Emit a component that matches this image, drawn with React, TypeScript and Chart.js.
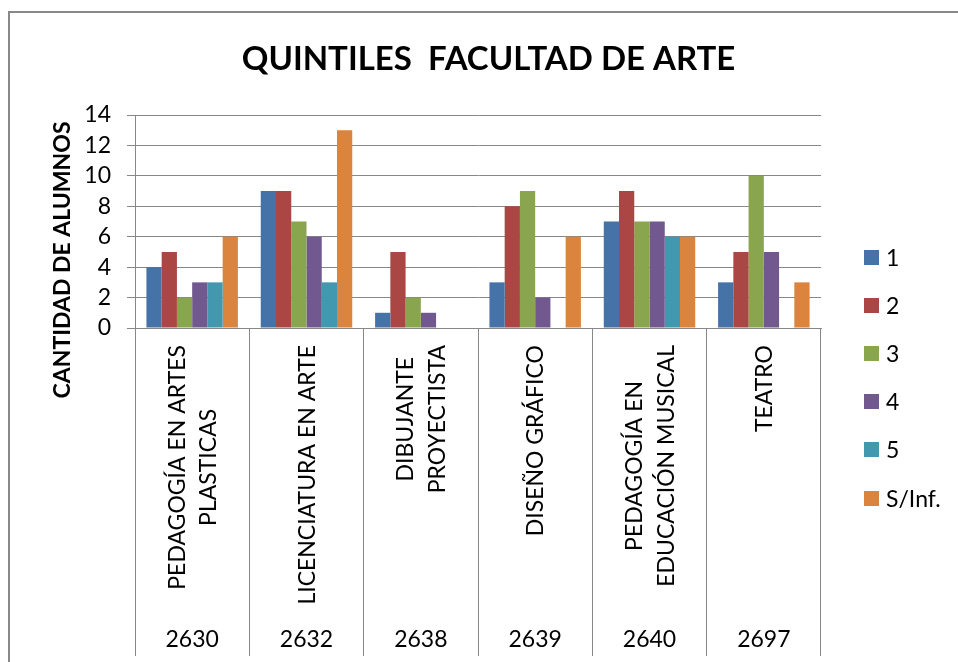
import React, { useEffect, useRef } from "react";
import { Chart, registerables } from "chart.js";

Chart.register(...registerables);

// ---- data ----
const TITLE = "QUINTILES  FACULTAD DE ARTE";
const Y_TITLE = "CANTIDAD DE ALUMNOS";
const PROGRAMS: string[][] = [
  ["PEDAGOGÍA EN ARTES", "PLASTICAS"],
  ["LICENCIATURA EN ARTE"],
  ["DIBUJANTE", "PROYECTISTA"],
  ["DISEÑO GRÁFICO"],
  ["PEDAGOGÍA EN", "EDUCACIÓN MUSICAL"],
  ["TEATRO"],
];
const CODES = ["2630", "2632", "2638", "2639", "2640", "2697"];
const SERIES_NAMES = ["1", "2", "3", "4", "5", "S/Inf."];
const Q1 = [4, 9, 1, 3, 7, 3];
const Q2 = [5, 9, 5, 8, 9, 5];
const Q3 = [2, 7, 2, 9, 7, 10];
const Q4 = [3, 6, 1, 2, 7, 5];
const Q5 = [3, 3, 0, 0, 6, 0];
const SINF = [6, 13, 0, 6, 6, 3];
const Y_MIN = 0;
const Y_MAX = 14;
const Y_STEP = 2;

// ---- styles ----
const SERIES = [Q1, Q2, Q3, Q4, Q5, SINF];
const COLORS = ["#4572A7", "#AA4643", "#89A54E", "#71588F", "#4198AF", "#DB843D"];
const GRID = "#878787";
const FONT = "Lato, 'Open Sans', sans-serif";
const CAP = 0.72;

const decor = {
  id: "decor",
  beforeDraw(chart: any) {
    const ctx = chart.ctx;
    ctx.save();
    ctx.fillStyle = "#ffffff";
    ctx.fillRect(0, 0, chart.width, chart.height);
    ctx.fillStyle = "#888888";
    ctx.fillRect(8, 11, 2, chart.height);
    ctx.fillRect(8, 11, chart.width, 2);
    ctx.restore();
  },
  afterDraw(chart: any) {
    const ctx = chart.ctx;
    const area = chart.chartArea;
    const xs = chart.scales.x;
    ctx.save();
    ctx.fillStyle = "#000000";

    // title
    ctx.font = `bold 33px ${FONT}`;
    ctx.textAlign = "center";
    ctx.textBaseline = "alphabetic";
    ctx.fillText(TITLE, 488.5, 70);

    // y axis title
    ctx.save();
    ctx.font = `bold 23px ${FONT}`;
    ctx.translate(70, 260);
    ctx.rotate(-Math.PI / 2);
    ctx.textAlign = "center";
    ctx.textBaseline = "alphabetic";
    ctx.fillText(Y_TITLE, 0, 0);
    ctx.restore();

    // category labels (rotated) and codes
    const fs = 23;
    ctx.font = `${fs}px ${FONT}`;
    const top = area.bottom + 17;
    PROGRAMS.forEach((lines, i) => {
      const cx = xs.getPixelForValue(i);
      const maxW = Math.max(...lines.map((l) => ctx.measureText(l).width));
      const yc = top + maxW / 2;
      lines.forEach((line, j) => {
        const lx = cx + (j - (lines.length - 1) / 2) * 31.5;
        ctx.save();
        ctx.translate(lx + (fs * CAP) / 2, yc);
        ctx.rotate(-Math.PI / 2);
        ctx.textAlign = "center";
        ctx.textBaseline = "alphabetic";
        ctx.fillText(line, 0, 0);
        ctx.restore();
      });
      ctx.textAlign = "center";
      ctx.textBaseline = "alphabetic";
      ctx.fillText(CODES[i], cx, 647);
    });

    // legend
    ctx.textAlign = "left";
    ctx.textBaseline = "alphabetic";
    chart.data.datasets.forEach((ds: any, i: number) => {
      const y = Math.round(249.5 + i * 48.2);
      ctx.fillStyle = ds.backgroundColor;
      ctx.fillRect(864, y, 15, 15);
      ctx.fillStyle = "#000000";
      ctx.fillText(ds.label, 886, y + 16);
    });
    ctx.restore();
  },
};

export default function App() {
  const ref = useRef<HTMLCanvasElement>(null);
  useEffect(() => {
    const chart = new Chart(ref.current as HTMLCanvasElement, {
      type: "bar",
      data: {
        labels: PROGRAMS.map((p) => p.join(" ")),
        datasets: SERIES.map((d, i) => ({
          label: SERIES_NAMES[i],
          data: d,
          backgroundColor: COLORS[i],
          borderWidth: 0,
          categoryPercentage: 0.8,
          barPercentage: 1,
        })),
      },
      options: {
        responsive: false,
        animation: false,
        devicePixelRatio: 1,
        layout: { padding: { top: 115, left: 0, right: 137, bottom: 0 } },
        plugins: {
          legend: { display: false },
          title: { display: false },
          tooltip: { enabled: false },
        },
        scales: {
          x: {
            offset: true,
            grid: {
              offset: true,
              drawOnChartArea: false,
              drawTicks: true,
              tickLength: 328,
              color: GRID,
              lineWidth: 1,
            },
            border: { display: true, color: GRID },
            ticks: { display: false },
            afterFit: (s: any) => {
              s.height = 334;
            },
          },
          y: {
            min: Y_MIN,
            max: Y_MAX,
            ticks: {
              stepSize: Y_STEP,
              autoSkip: false,
              font: { family: FONT, size: 23 },
              color: "#000000",
              padding: 16,
            },
            grid: { color: GRID, tickLength: 8, drawTicks: true, lineWidth: 1 },
            border: { display: true, color: GRID },
            afterFit: (s: any) => {
              s.width = 135;
            },
          },
        },
      },
      plugins: [decor],
    });
    return () => chart.destroy();
  }, []);
  return (
    <canvas
      ref={ref}
      width={958}
      height={662}
      style={{ position: "absolute", left: 0, top: 0, display: "block" }}
    />
  );
}
